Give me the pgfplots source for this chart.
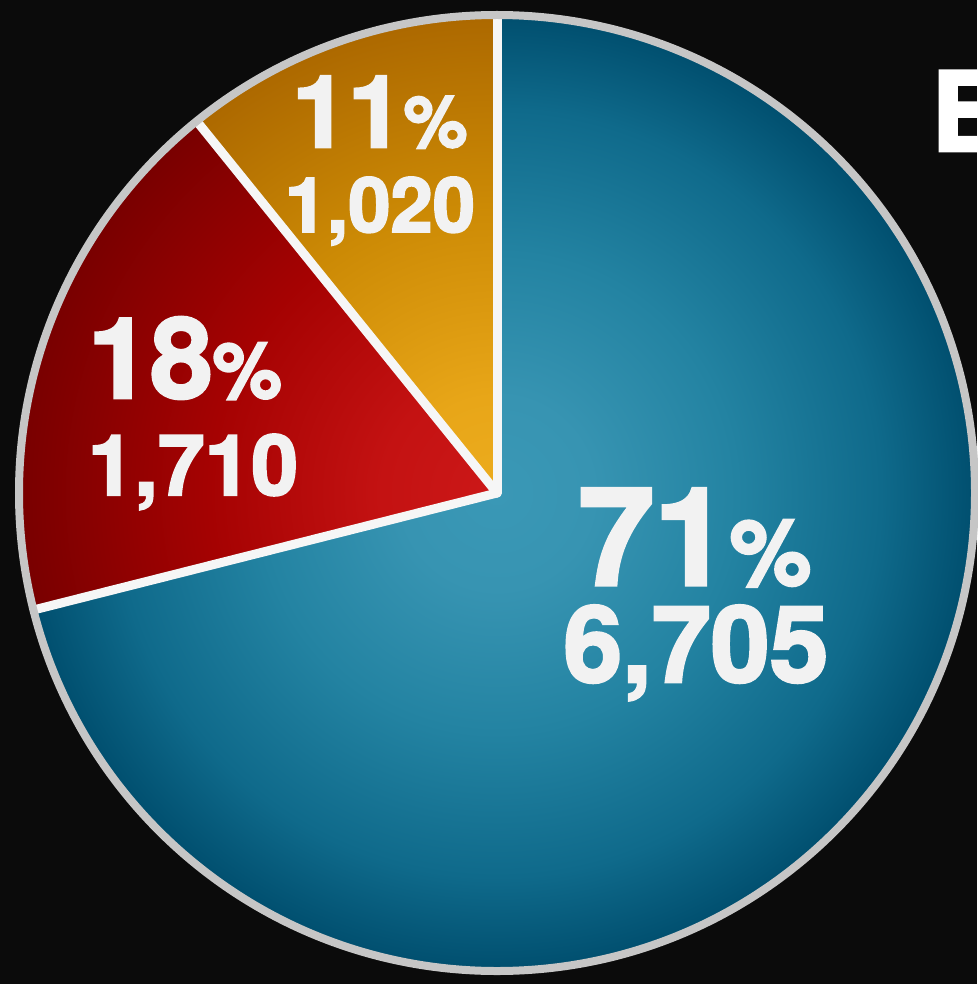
\documentclass[border=0pt]{standalone}
\usepackage{pgfplots}
\pgfplotsset{compat=1.18}
\usepackage{pgfplotstable}
\usepackage{fontspec}
\setmainfont{TeX Gyre Heros}
\newfontfamily\heavy{TeX Gyre Heros}[UprightFont=*-Bold,FakeBold=2.5]
\definecolor{bg}{HTML}{0B0B0B}
\definecolor{bord}{HTML}{C6C6C6}
\definecolor{sep}{HTML}{F6F6F6}
\definecolor{txt}{HTML}{F2F2F2}
\definecolor{b0}{HTML}{3A98B6}
\definecolor{b1}{HTML}{3794B2}
\definecolor{b2}{HTML}{2383A2}
\definecolor{b3}{HTML}{0F6A8B}
\definecolor{b4}{HTML}{004E6E}
\definecolor{r0}{HTML}{CC1818}
\definecolor{r1}{HTML}{C41212}
\definecolor{r2}{HTML}{A50202}
\definecolor{r3}{HTML}{780000}
\definecolor{g0}{HTML}{ECAC1E}
\definecolor{g1}{HTML}{E8A618}
\definecolor{g2}{HTML}{CC8A05}
\definecolor{g3}{HTML}{AC6800}
\pgfdeclareradialshading{blueS}{\pgfpointorigin}{color(0bp)=(b0); color(5bp)=(b1); color(12.5bp)=(b2); color(20bp)=(b3); color(25bp)=(b4); color(50bp)=(b4)}
\pgfdeclareradialshading{redS}{\pgfpointorigin}{color(0bp)=(r0); color(6bp)=(r1); color(15bp)=(r2); color(25bp)=(r3); color(50bp)=(r3)}
\pgfdeclareradialshading{goldS}{\pgfpointorigin}{color(0bp)=(g0); color(5bp)=(g1); color(15bp)=(g2); color(25bp)=(g3); color(50bp)=(g3)}
\pgfplotstableread{
label value
Blue 6705
Red 1710
Gold 1020
}\piedata
\begin{document}
\begin{tikzpicture}
\pgfplotstablegetelem{0}{value}\of\piedata \let\vA\pgfplotsretval
\pgfplotstablegetelem{1}{value}\of\piedata \let\vB\pgfplotsretval
\pgfplotstablegetelem{2}{value}\of\piedata \let\vC\pgfplotsretval
\pgfmathsetmacro\tot{\vA+\vB+\vC}
\pgfmathsetmacro\fA{\vA/\tot}
\pgfmathsetmacro\fB{\vB/\tot}
\pgfmathsetmacro\fC{\vC/\tot}
\pgfmathsetmacro\aA{90-360*\fA}
\pgfmathsetmacro\aB{\aA-360*\fB}
\pgfmathsetmacro\aC{\aB-360*\fC}
\begin{axis}[at={(0,0)},anchor=south west,scale only axis,width=977pt,height=984pt,
  xmin=0,xmax=977,ymin=0,ymax=984,y dir=reverse,hide axis,clip=false]
\fill[bg] (axis cs:0,0) rectangle (axis cs:977,984);
\coordinate (c) at (axis cs:497,493);
\begin{scope}
\clip (c) -- ++(90:479pt) arc[start angle=90,end angle=\aA,radius=479pt] -- cycle;
\shade[shading=blueS] (c) circle[radius=480pt];
\end{scope}
\begin{scope}
\clip (c) -- ++(\aA:479pt) arc[start angle=\aA,end angle=\aB,radius=479pt] -- cycle;
\shade[shading=redS] (c) circle[radius=480pt];
\end{scope}
\begin{scope}
\clip (c) -- ++(\aB:479pt) arc[start angle=\aB,end angle=\aC,radius=479pt] -- cycle;
\shade[shading=goldS] (c) circle[radius=480pt];
\end{scope}
\draw[sep,line width=9pt,line cap=round] (c) -- ++(90:476pt);
\draw[sep,line width=9pt,line cap=round] (c) -- ++(\aA:476pt);
\draw[sep,line width=9pt,line cap=round] (c) -- ++(\aB:476pt);
\draw[bord,line width=8pt] (c) circle[radius=478pt];
% labels
\node[txt,anchor=base,inner sep=0pt] at (axis cs:380,147) {\heavy\fontsize{100}{100}\selectfont 11{\fontsize{72}{72}\selectfont\%}};
\node[txt,anchor=base,inner sep=0pt] at (axis cs:380,232) {\heavy\fontsize{76}{76}\selectfont 1,020};
\node[txt,anchor=base,inner sep=0pt] at (axis cs:185,398) {\heavy\fontsize{112}{112}\selectfont 18{\fontsize{78}{78}\selectfont\%}};
\node[txt,anchor=base,inner sep=0pt] at (axis cs:193,495) {\heavy\fontsize{84}{84}\selectfont 1,710};
\node[txt,anchor=base,inner sep=0pt] at (axis cs:695,585) {\heavy\fontsize{136}{136}\selectfont 71{\fontsize{92}{92}\selectfont\%}};
\node[txt,anchor=base,inner sep=0pt] at (axis cs:696,682) {\heavy\fontsize{106}{106}\selectfont 6,705};
\node[white,anchor=base west,inner sep=0pt] at (axis cs:931,151) {\heavy\fontsize{110}{110}\selectfont E};
\end{axis}
\pgfresetboundingbox
\useasboundingbox (0,0) rectangle (977pt,984pt);
\end{tikzpicture}
\end{document}
